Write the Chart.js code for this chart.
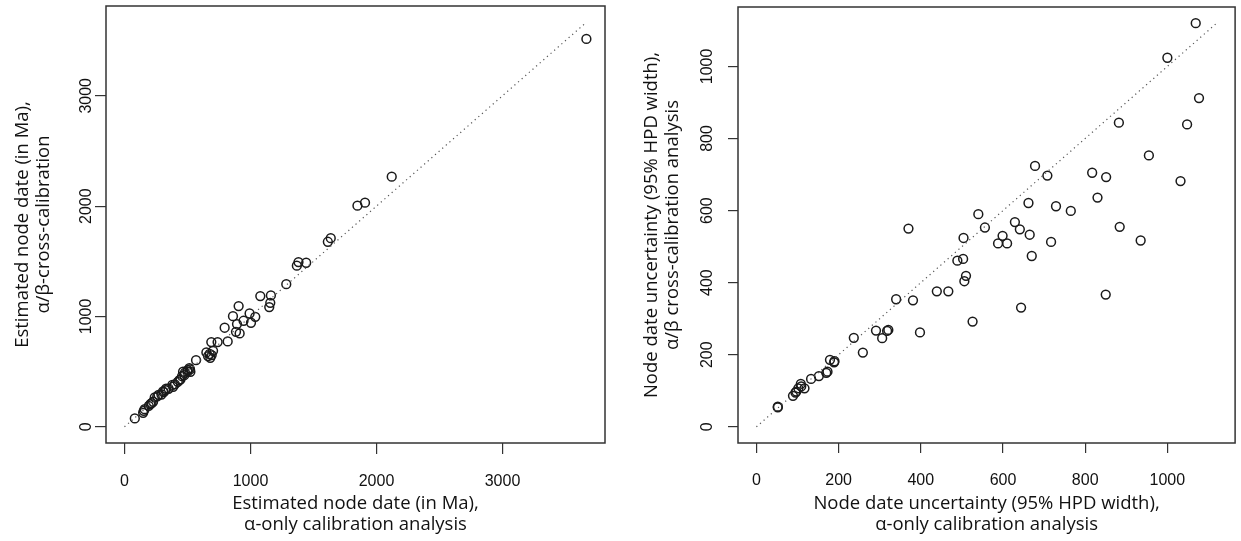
<!DOCTYPE html>
<html>
<head>
<meta charset="utf-8">
<script src="https://cdn.jsdelivr.net/npm/chart.js@4.4.1/dist/chart.umd.min.js"></script>
<style>
  body { margin: 0; background: #fff; }
  .panel { position: absolute; top: 0; height: 541px; }
</style>
</head>
<body>
<div class="panel" style="left:0;width:620px"><canvas id="dateChart" width="620" height="541"></canvas></div>
<div class="panel" style="left:620px;width:621px"><canvas id="widthChart" width="621" height="541"></canvas></div>
<script>
// left panel: estimated node dates (Ma)
const dateAlphaOnly = [3666, 2121, 1849, 1909, 1614, 1637, 1368, 1381, 1442, 1284, 1078, 1162, 1157, 1149,
  906, 861, 993, 1038, 945, 1004, 893, 795, 885, 914, 819, 689, 739, 703, 650, 663, 681, 676, 692, 568,
  515, 502, 523, 465, 475, 457, 436, 423, 386, 380, 325, 312, 293, 306, 240, 227, 206, 215, 193, 153,
  148, 160, 82, 260, 270, 330, 350, 400, 445, 480, 500, 520];
const dateCrossCal = [3515, 2267, 2004, 2031, 1677, 1710, 1460, 1493, 1487, 1293, 1185, 1191, 1124, 1085,
  1094, 1003, 1027, 997, 961, 943, 931, 898, 861, 846, 774, 768, 768, 689, 674, 641, 626, 660, 650, 604,
  532, 514, 499, 499, 468, 459, 423, 408, 363, 380, 332, 314, 293, 320, 266, 227, 205, 215, 190, 145,
  127, 160, 76, 275, 290, 345, 345, 385, 430, 490, 500, 520];
const dateTicks = [0, 1000, 2000, 3000];
const dateLimit = 3667;

// right panel: 95% HPD widths
const widthAlphaOnly = [1069, 1000, 1077, 1048, 882, 955, 678, 708, 817, 851, 1032, 830, 662, 729, 765,
  540, 629, 556, 641, 370, 884, 665, 599, 504, 588, 610, 717, 935, 503, 489, 670, 510, 506, 439, 467,
  340, 381, 850, 644, 526, 291, 321, 318, 398, 306, 237, 259, 179, 189, 190, 173, 170, 152, 133, 108,
  109, 117, 102, 95, 89, 97, 52, 52];
const widthCrossCal = [1120, 1024, 912, 839, 844, 753, 724, 697, 705, 693, 682, 636, 621, 612, 599,
  590, 568, 553, 548, 550, 555, 533, 530, 524, 509, 509, 513, 517, 466, 461, 474, 419, 404, 376, 376,
  354, 351, 367, 331, 292, 267, 269, 266, 262, 246, 247, 206, 186, 179, 182, 153, 150, 141, 133, 119,
  112, 107, 107, 95, 86, 98, 56, 54];
const widthTicks = [0, 200, 400, 600, 800, 1000];
const widthLimit = 1120;

const tickFont = { family: "'Liberation Sans', Arial, sans-serif", size: 16 };
const titleFont = { family: "'Open Sans', sans-serif", size: 18.5, lineHeight: 1.13 };

const boxPlugin = {
  id: 'box',
  afterDraw(chart) {
    const { ctx, chartArea: a } = chart;
    ctx.save();
    ctx.strokeStyle = '#333';
    ctx.lineWidth = 1.5;
    ctx.strokeRect(a.left, a.top, a.right - a.left, a.bottom - a.top);
    ctx.restore();
  }
};

function makePanel(id, xs, ys, ticks, limit, opts) {
  const pad = limit * 0.04;
  const points = xs.map((x, i) => ({ x: x, y: ys[i] }));
  const setTicks = scale => { scale.ticks = ticks.map(v => ({ value: v })); };
  const plain = v => String(v);
  const grid = { display: true, drawOnChartArea: false, drawTicks: true, tickLength: opts.tickLen,
    color: '#333', lineWidth: 1.2 };

  return new Chart(document.getElementById(id), {
    type: 'scatter',
    data: {
      datasets: [
        {
          type: 'line',
          data: [{ x: 0, y: 0 }, { x: limit, y: limit }],
          borderColor: '#555',
          borderWidth: 1.2,
          borderDash: [1.2, 3.6],
          pointRadius: 0,
          fill: false
        },
        {
          data: points,
          pointRadius: 4.4,
          pointBorderWidth: 1.5,
          pointBackgroundColor: 'rgba(0,0,0,0)',
          pointBorderColor: '#1a1a1a'
        }
      ]
    },
    options: {
      responsive: false,
      animation: false,
      layout: { padding: { top: opts.top, right: opts.right, left: 0, bottom: 0 } },
      plugins: { legend: { display: false }, tooltip: { enabled: false } },
      scales: {
        x: {
          type: 'linear',
          min: -pad,
          max: limit + pad,
          afterBuildTicks: setTicks,
          afterFit: s => { s.height = 98; s.paddingLeft = 0; s.paddingRight = 0; },
          grid: grid,
          border: { display: false },
          ticks: { font: tickFont, color: '#111', padding: 18, maxRotation: 0, callback: plain },
          title: {
            display: true,
            text: opts.xTitle,
            font: titleFont,
            color: '#111',
            padding: { top: 0, bottom: 6 }
          }
        },
        y: {
          type: 'linear',
          min: -pad,
          max: limit + pad,
          afterBuildTicks: setTicks,
          afterFit: s => { s.width = opts.yWidth; s.paddingTop = 0; s.paddingBottom = 0; },
          grid: grid,
          border: { display: false },
          ticks: { font: tickFont, color: '#111', padding: opts.yTickPad, minRotation: 90, maxRotation: 90,
            crossAlign: 'center', callback: plain },
          title: {
            display: true,
            text: opts.yTitle,
            font: titleFont,
            color: '#111',
            padding: { top: opts.yTitlePad, bottom: 0 }
          }
        }
      }
    },
    plugins: [boxPlugin]
  });
}

makePanel('dateChart', dateAlphaOnly, dateCrossCal, dateTicks, dateLimit, {
  top: 6, right: 15, yWidth: 106, tickLen: 11, yTickPad: -9.5, yTitlePad: 12.5,
  xTitle: ['Estimated node date (in Ma),', 'α-only calibration analysis'],
  yTitle: ['Estimated node date (in Ma),', 'α/β-cross-calibration']
});

makePanel('widthChart', widthAlphaOnly, widthCrossCal, widthTicks, widthLimit, {
  top: 7, right: 4, yWidth: 118, tickLen: 10, yTickPad: 3, yTitlePad: 21.5,
  xTitle: ['Node date uncertainty (95% HPD width),', 'α-only calibration analysis'],
  yTitle: ['Node date uncertainty (95% HPD width),', 'α/β cross-calibration analysis']
});
</script>
</body>
</html>
